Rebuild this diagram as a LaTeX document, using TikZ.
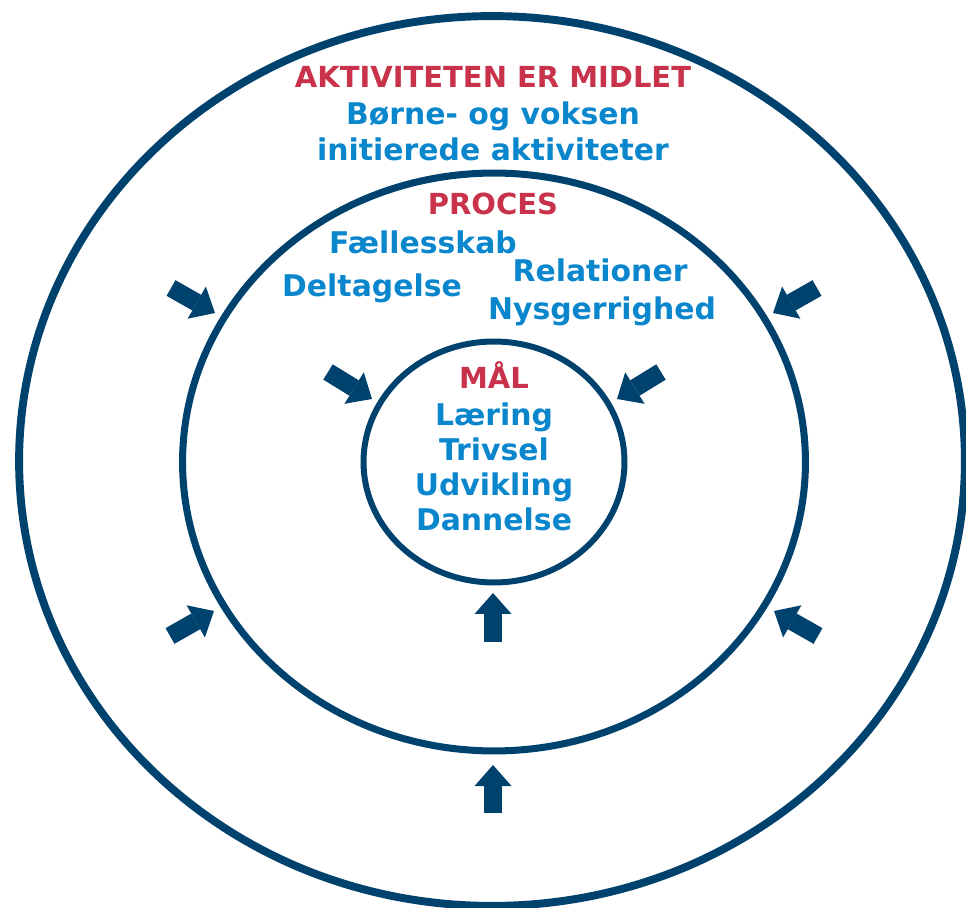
\documentclass[tikz,border=0pt]{standalone}
\usepackage{fontspec}
\setmainfont{DejaVu Sans}
\usepackage{xcolor}
\usepackage{tikz}
\usetikzlibrary{arrows.meta}
\definecolor{ringblue}{HTML}{00426E}
\definecolor{titlered}{HTML}{C8324A}
\definecolor{wordblue}{HTML}{0A86CC}

\begin{document}
\begin{tikzpicture}[x=0.02cm, y=-0.02cm,
    ring/.style={draw=ringblue},
    title/.style={font=\bfseries\fontsize{16.5}{18}\selectfont, text=titlered, inner sep=0pt,
      text height=12pt, text depth=3.5pt},
    word/.style={font=\bfseries\fontsize{17}{18}\selectfont, text=wordblue, inner sep=0pt,
      text height=12.5pt, text depth=3.5pt},
    push/.style={draw=ringblue, line width=0.36cm,
      -{Triangle[length=0.42cm, width=0.74cm, line width=0pt]}}]
    \useasboundingbox (0,0) rectangle (966,908);
    % Three rings
    \coordinate (mid) at (492,461);
    \draw[ring, line width=4.5pt] (mid) ellipse [x radius=9.46cm, y radius=8.9cm];
    \draw[ring, line width=4pt] (494,462) ellipse [x radius=6.23cm, y radius=5.78cm];
    \draw[ring, line width=3.4pt] (494,462) ellipse [x radius=2.61cm, y radius=2.41cm];
    % Outer ring texts
    \node[title] (midlet) at (493,80) {AKTIVITETEN ER MIDLET};
    \node[word] (boerne) at (493,117) {Børne- og voksen};
    \node[word] (initier) at (493,153) {initierede aktiviteter};
    % Middle ring texts
    \node[title] (proces) at (493,207) {PROCES};
    \node[word] (faelles) at (423,246) {Fællesskab};
    \node[word] (deltag) at (372,289) {Deltagelse};
    \node[word] (relat) at (600,274) {Relationer};
    \node[word] (nysger) at (602,312) {Nysgerrighed};
    % Inner ring texts
    \node[title] (maal) at (494,381) {MÅL};
    \node[word] (laering) at (494,418) {Læring};
    \node[word] (trivsel) at (494,453) {Trivsel};
    \node[word] (udvik) at (494,488) {Udvikling};
    \node[word] (dannel) at (494,523) {Dannelse};
    % Arrow ends
    \coordinate (oul) at (171,288); \coordinate (oult) at (215,313);
    \coordinate (our) at (817,288); \coordinate (ourt) at (773,313);
    \coordinate (oll) at (170,636); \coordinate (ollt) at (214,611);
    \coordinate (olr) at (818,636); \coordinate (olrt) at (774,611);
    \coordinate (ob) at (493,813); \coordinate (obt) at (493,765);
    \coordinate (iul) at (328,372); \coordinate (iult) at (372,399);
    \coordinate (iur) at (661,372); \coordinate (iurt) at (617,399);
    \coordinate (ib) at (493,642); \coordinate (ibt) at (493,593);
    % Arrows
    \foreach \a/\b in {oul/oult, our/ourt, oll/ollt, olr/olrt, ob/obt, iul/iult, iur/iurt, ib/ibt}
      \draw[push] (\a) -- (\b);
\end{tikzpicture}
\end{document}
